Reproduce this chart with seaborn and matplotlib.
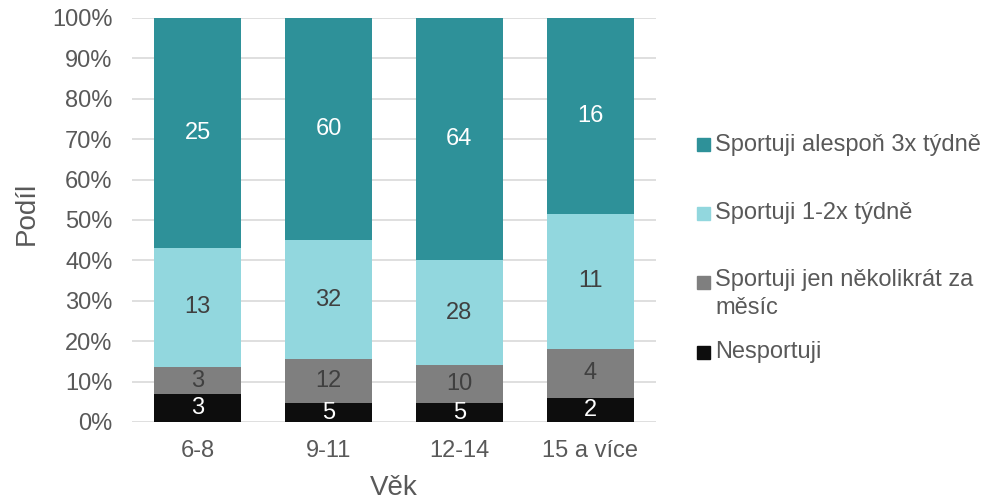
import matplotlib
matplotlib.use("Agg")
import matplotlib.pyplot as plt
import seaborn as sns
import pandas as pd
import numpy as np
from matplotlib.patches import Rectangle

categories = ["6-8", "9-11", "12-14", "15 a více"]
series_names = ["Nesportuji", "Sportuji jen několikrát za měsíc",
                "Sportuji 1-2x týdně", "Sportuji alespoň 3x týdně"]
legend_labels = ["Nesportuji", "Sportuji jen několikrát za\nměsíc",
                 "Sportuji 1-2x týdně", "Sportuji alespoň 3x týdně"]
nesportuji = [3, 5, 5, 2]
nekolikrat = [3, 12, 10, 4]
jednou_dva = [13, 32, 28, 11]
tri_krat = [25, 60, 64, 16]
colors = ["#0D0D0D", "#7F7F7F", "#92D7DE", "#2E9199"]
label_colors = ["white", "#404040", "#404040", "white"]
yticks = [0, 10, 20, 30, 40, 50, 60, 70, 80, 90, 100]

sns.set_theme(style="white")
plt.rcParams["font.family"] = ["Liberation Sans", "DejaVu Sans"]
TXT = "#595959"

counts = np.array([nesportuji, nekolikrat, jednou_dva, tri_krat], dtype=float)
totals = counts.sum(axis=0)
shares = counts / totals * 100
cum = np.cumsum(shares, axis=0)

fig = plt.figure(figsize=(10.01, 5.0), dpi=100)
ax = fig.add_axes([0.132, 0.156, 0.523, 0.808])

for yv in yticks:
    ax.axhline(yv, color="#D9D9D9", lw=1.2, zorder=0)

# draw from top layer down so lower layers overlay
for i in range(3, -1, -1):
    df = pd.DataFrame({"Věk": categories, "v": cum[i]})
    sns.barplot(data=df, x="Věk", y="v", color=colors[i], width=0.666,
                saturation=1, ax=ax, linewidth=0, zorder=2 + (3 - i))

for i in range(4):
    for j in range(len(categories)):
        lo = cum[i][j] - shares[i][j]
        mid = (lo + cum[i][j]) / 2
        ax.text(j, mid, f"{int(counts[i][j])}", ha="center", va="center",
                fontsize=17, color=label_colors[i], zorder=10)

ax.set_ylim(0, 100)
ax.set_xlim(-0.5, 3.5)
ax.set_yticks(yticks)
ax.set_yticklabels([f"{v}%" for v in yticks])
ax.tick_params(axis="both", labelsize=17, colors=TXT, length=0)
ax.tick_params(axis="x", pad=13)
ax.tick_params(axis="y", pad=14)
ax.set_xlabel("Věk", fontsize=20, color=TXT, labelpad=9)
ax.set_ylabel("Podíl", fontsize=20, color=TXT)
ax.yaxis.set_label_coords(-0.176, 0.517)
for s in ax.spines.values():
    s.set_visible(False)

# legend (manual, Excel-style)
W, H = 1001.0, 500.0
entries = [(3, 145), (2, 213), (1, 282), (0, 352)]
for idx, ypx in entries:
    fig.patches.append(Rectangle((697 / W, 1 - (ypx + 6.5) / H), 13 / W, 13 / H,
                                 transform=fig.transFigure, color=colors[idx],
                                 figure=fig))
    if idx == 1:
        fig.text(715 / W, 1 - (ypx - 13) / H, legend_labels[idx], fontsize=17,
                 color=TXT, ha="left", va="top", linespacing=1.35)
    else:
        fig.text(715 / W, 1 - ypx / H, legend_labels[idx], fontsize=17,
                 color=TXT, ha="left", va="center")

fig.savefig("out.png", dpi=100)
